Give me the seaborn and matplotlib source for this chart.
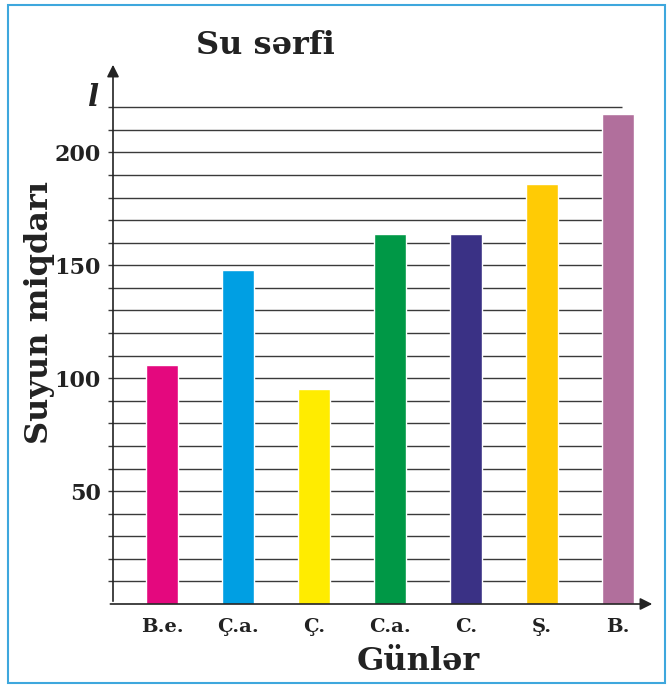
import matplotlib
matplotlib.use("Agg")
import matplotlib.pyplot as plt
from matplotlib.patches import Rectangle
import pandas as pd
import seaborn as sns

# chart data
days = ["B.e.", "Ç.a.", "Ç.", "C.a.", "C.", "Ş.", "B."]
water = [106, 148, 95, 164, 164, 186, 217]
bar_colors = ["#E4087E", "#009FE3", "#FFEC00", "#009846", "#3A3185", "#FFCB05", "#B16F9C"]
y_ticks = [50, 100, 150, 200]
grid_levels = list(range(10, 230, 10))

W, H = 668, 685
sns.set_theme(style="white")
plt.rcParams["font.family"] = ["DejaVu Serif"]
plt.rcParams["font.weight"] = "bold"
ink = "#222222"

fig = plt.figure(figsize=(W / 100, H / 100), dpi=100)
# axes box in pixel coords: x 113..655, y 62..604
ax = fig.add_axes([113 / W, (H - 604) / H, (655 - 113) / W, (604 - 62) / H])

df = pd.DataFrame({"day": days, "water": water})
sns.barplot(data=df, x="day", y="water", hue="day", palette=bar_colors,
            order=days, width=0.42, legend=False, saturation=1, ax=ax, zorder=3)

ax.set_xlim(-0.645, 6.49)
ax.set_ylim(0, 240)

# horizontal rules
ax.hlines(grid_levels, -0.71, 6.05, colors="#3a3a3a", linewidth=1.0, zorder=1, clip_on=False)

for s in ax.spines.values():
    s.set_visible(False)

# axes with arrow heads
ax.annotate("", xy=(0, 1), xytext=(0, 0), xycoords="axes fraction",
            arrowprops=dict(arrowstyle="-|>", color=ink, lw=1.2, mutation_scale=18))
ax.annotate("", xy=(1, 0), xytext=(-0.01, 0), xycoords="axes fraction",
            arrowprops=dict(arrowstyle="-|>", color=ink, lw=1.2, mutation_scale=18))

ax.set_yticks(y_ticks)
ax.set_yticklabels([str(v) for v in y_ticks], fontsize=16, fontweight="bold", color=ink)
ax.tick_params(axis="y", length=0, pad=9)
ax.tick_params(axis="x", length=0, pad=10)
for lbl in ax.get_xticklabels():
    lbl.set_fontsize(14)
    lbl.set_fontweight("bold")
    lbl.set_color(ink)
ax.set_xlabel("")
ax.set_ylabel("")
ax.grid(False)

def px(x, y):
    return x / W, 1 - y / H

fig.text(*px(265, 46), "Su sərfi", fontsize=23, fontweight="bold", color=ink,
         ha="center", va="center")
fig.text(*px(40, 312), "Suyun miqdarı", fontsize=23, fontweight="bold", color=ink,
         ha="center", va="center", rotation=90)
fig.text(*px(418, 662), "Günlər", fontsize=23, fontweight="bold", color=ink,
         ha="center", va="center")
fig.text(*px(94, 97), "l", fontsize=21, fontweight="bold", style="italic", color=ink,
         ha="center", va="center")

# blue frame
fig.patches.append(Rectangle((8 / W, 2 / H), (665 - 8) / W, (680 - 2) / H,
                             transform=fig.transFigure, fill=False,
                             edgecolor="#3EA7DD", linewidth=1.5))

fig.savefig("out.png", dpi=100)
